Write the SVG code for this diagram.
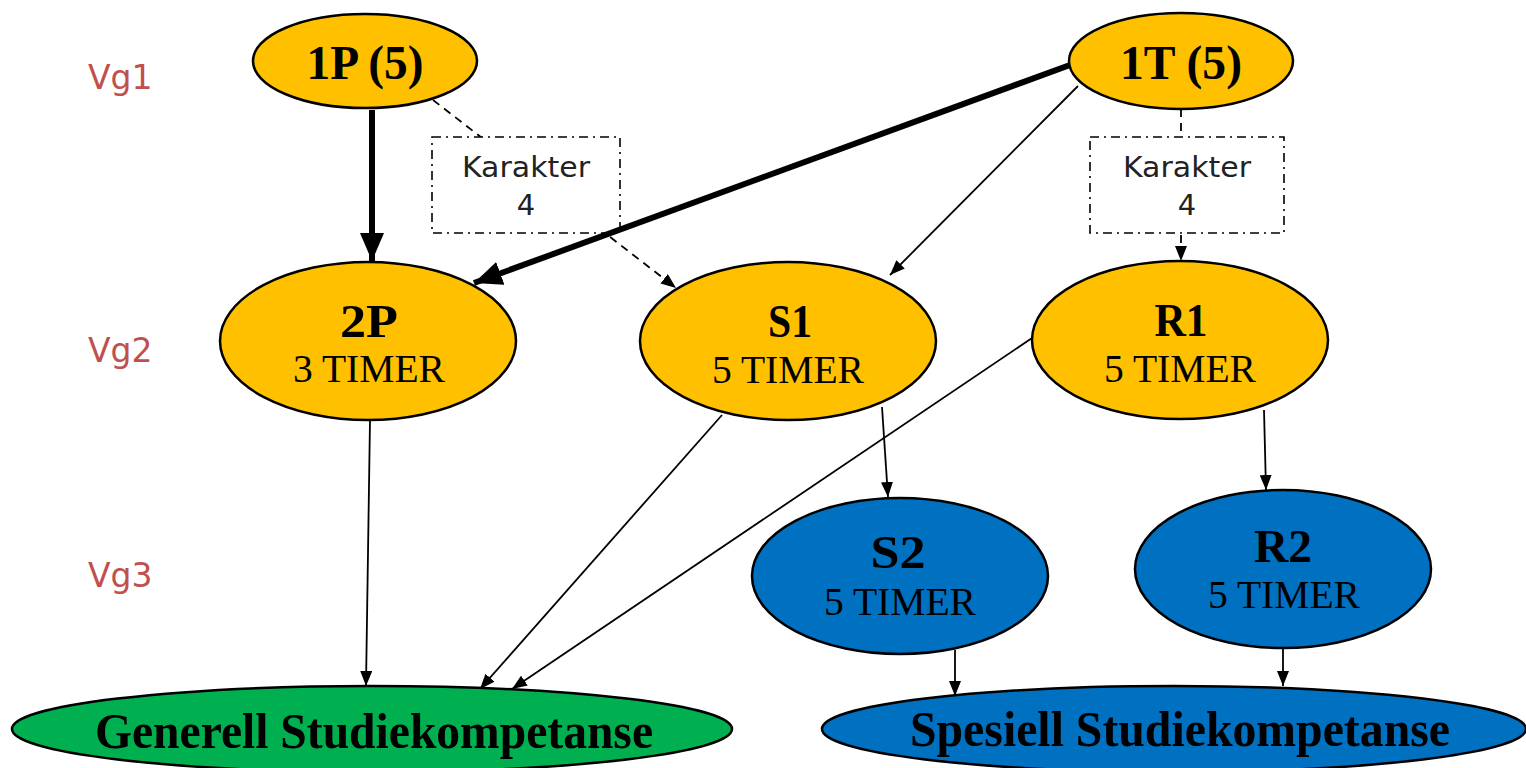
<svg xmlns="http://www.w3.org/2000/svg" width="1526" height="768" viewBox="0 0 1526 768">
<style>
.y{fill:#FFC000;stroke:#000;stroke-width:2.5}
.b{fill:#0070C0;stroke:#000;stroke-width:2.5}
.g{fill:#00B050;stroke:#000;stroke-width:2.5}
.t{font-family:"Liberation Serif","Times New Roman",serif;fill:#000;text-anchor:middle}
.bd{font-weight:bold}
.vg{font-family:"DejaVu Sans","Liberation Sans",sans-serif;font-size:33px;fill:#C0504D}
.kt{font-family:"DejaVu Sans","Liberation Sans",sans-serif;font-size:29px;fill:#222;text-anchor:middle}
.kb{fill:#fff;stroke:#000;stroke-width:1.6;stroke-dasharray:9 5 2 5}
.c{fill:none;stroke:#000;stroke-width:1.8}
.ck{fill:none;stroke:#000;stroke-width:6}
.cd{fill:none;stroke:#000;stroke-width:1.8;stroke-dasharray:8 6}
</style>
<defs>
<marker id="a" markerUnits="userSpaceOnUse" markerWidth="15" markerHeight="12" refX="15" refY="6" orient="auto"><path d="M0,0 L15,6 L0,12 z" fill="#000"/></marker>
<marker id="ak" markerUnits="userSpaceOnUse" markerWidth="28" markerHeight="24" refX="28" refY="12" orient="auto"><path d="M0,0 L28,12 L0,24 z" fill="#000"/></marker>
</defs>
<g id="labels">
<text class="vg" x="88" y="89">Vg1</text>
<text class="vg" x="88" y="362">Vg2</text>
<text class="vg" x="88" y="587">Vg3</text>
</g>
<g id="connectors">
<line class="cd" x1="433" y1="100" x2="676" y2="288" marker-end="url(#a)"/>
<line class="cd" x1="1181" y1="109" x2="1181" y2="261" marker-end="url(#a)"/>
</g>
<g id="karakter1">
<rect class="kb" x="432" y="137" width="188" height="96"/>
<text class="kt" x="526" y="177" textLength="128" lengthAdjust="spacingAndGlyphs">Karakter</text>
<text class="kt" x="526" y="215">4</text>
</g>
<g id="karakter2">
<rect class="kb" x="1090" y="137" width="194" height="96"/>
<text class="kt" x="1187" y="177" textLength="128" lengthAdjust="spacingAndGlyphs">Karakter</text>
<text class="kt" x="1187" y="215">4</text>
</g>
<g id="connectors-main">
<line class="ck" x1="372" y1="110" x2="372" y2="261" marker-end="url(#ak)"/>
<line class="ck" x1="1070" y1="65" x2="474" y2="283" marker-end="url(#ak)"/>
<line class="c" x1="1078" y1="86" x2="890" y2="275" marker-end="url(#a)"/>
<line class="c" x1="370" y1="420" x2="366" y2="686" marker-end="url(#a)"/>
<line class="c" x1="722" y1="415" x2="480" y2="689" marker-end="url(#a)"/>
<line class="c" x1="1035" y1="336" x2="512" y2="689" marker-end="url(#a)"/>
<line class="c" x1="882" y1="407" x2="888" y2="497" marker-end="url(#a)"/>
<line class="c" x1="1264" y1="410" x2="1266" y2="490" marker-end="url(#a)"/>
<line class="c" x1="955" y1="650" x2="955" y2="696" marker-end="url(#a)"/>
<line class="c" x1="1283" y1="646" x2="1283" y2="686" marker-end="url(#a)"/>
</g>
<g id="n1P">
<ellipse class="y" cx="365" cy="61" rx="112" ry="47"/>
<text class="t bd" x="365" y="79" font-size="48" textLength="117" lengthAdjust="spacingAndGlyphs">1P (5)</text>
</g>
<g id="n1T">
<ellipse class="y" cx="1181" cy="61" rx="112" ry="48"/>
<text class="t bd" x="1181" y="79" font-size="48" textLength="122" lengthAdjust="spacingAndGlyphs">1T (5)</text>
</g>
<g id="n2P">
<ellipse class="y" cx="368" cy="341" rx="148" ry="79"/>
<text class="t bd" x="369" y="337" font-size="46" textLength="58" lengthAdjust="spacingAndGlyphs">2P</text>
<text class="t" x="369" y="382" font-size="40" textLength="152" lengthAdjust="spacingAndGlyphs">3 TIMER</text>
</g>
<g id="nS1">
<ellipse class="y" cx="788" cy="341" rx="148" ry="79"/>
<text class="t bd" x="790" y="337" font-size="46" textLength="44" lengthAdjust="spacingAndGlyphs">S1</text>
<text class="t" x="788" y="383" font-size="40" textLength="152" lengthAdjust="spacingAndGlyphs">5 TIMER</text>
</g>
<g id="nR1">
<ellipse class="y" cx="1180" cy="340" rx="148" ry="79"/>
<text class="t bd" x="1181" y="336" font-size="46" textLength="53" lengthAdjust="spacingAndGlyphs">R1</text>
<text class="t" x="1180" y="382" font-size="40" textLength="152" lengthAdjust="spacingAndGlyphs">5 TIMER</text>
</g>
<g id="nS2">
<ellipse class="b" cx="900" cy="576" rx="148" ry="78"/>
<text class="t bd" x="898" y="568" font-size="46" textLength="55" lengthAdjust="spacingAndGlyphs">S2</text>
<text class="t" x="900" y="615" font-size="40" textLength="152" lengthAdjust="spacingAndGlyphs">5 TIMER</text>
</g>
<g id="nR2">
<ellipse class="b" cx="1283" cy="569" rx="148" ry="79"/>
<text class="t bd" x="1283" y="562" font-size="46" textLength="58" lengthAdjust="spacingAndGlyphs">R2</text>
<text class="t" x="1284" y="608" font-size="40" textLength="152" lengthAdjust="spacingAndGlyphs">5 TIMER</text>
</g>
<g id="nGen">
<ellipse class="g" cx="372" cy="729" rx="360" ry="43"/>
<text class="t bd" x="374" y="748" font-size="50" textLength="558" lengthAdjust="spacingAndGlyphs">Generell Studiekompetanse</text>
</g>
<g id="nSpes">
<ellipse class="b" cx="1174" cy="729" rx="352" ry="43"/>
<text class="t bd" x="1180" y="746" font-size="50" textLength="540" lengthAdjust="spacingAndGlyphs">Spesiell Studiekompetanse</text>
</g>
</svg>
